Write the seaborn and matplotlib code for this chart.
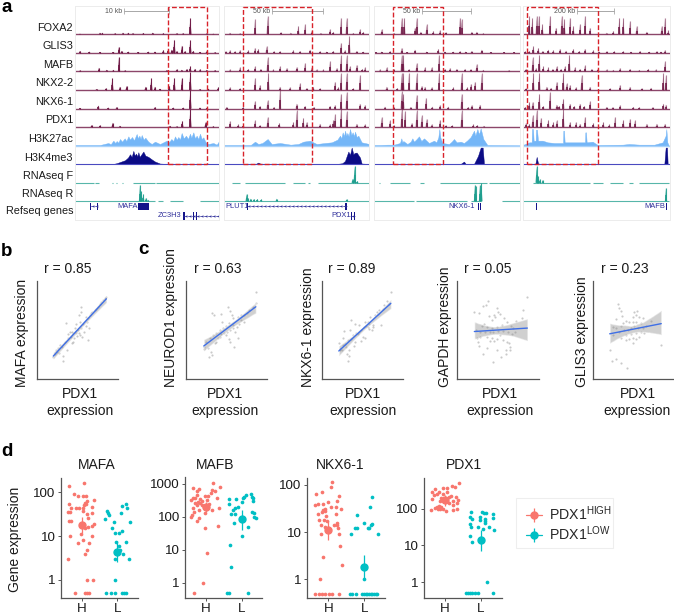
import numpy as np
import pandas as pd
import matplotlib
matplotlib.use("Agg")
import matplotlib.pyplot as plt
from matplotlib.patches import Rectangle
import seaborn as sns

W, H = 674, 615

foxa2_1 = [(347,48),(76,5),(83,5),(145,5),(161,5),(174,3),(206,4),(234,5),(266,3),(306,3),(325,3),(396,3),(416,2),(16,2),(121,3)]
glis3_1 = [(347,38),(299,40),(322,22),(133,18),(281,12),(291,10),(266,8),(16,6),(44,4),(76,3),(116,3),(141,6),(161,4),(191,3),(221,4),(241,4),(306,5),(331,5),(356,6),(396,5),(376,3),(421,2)]
mafb_1 = [(133,43),(347,15),(73,11),(16,3),(96,5),(116,5),(151,3),(276,4),(306,6),(321,5),(336,7),(361,8),(376,6),(396,5),(421,4)]
nkx22_1 = [(347,55),(113,35),(230,35),(299,35),(322,35),(284,12),(136,10),(156,12),(213,10),(241,10),(94,5),(66,3),(256,4),(376,3),(401,4),(431,8)]
nkx61_1 = [(347,56),(71,9),(16,2),(101,3),(126,4),(241,4),(296,3),(326,3),(376,3),(396,2)]
pdx1_1 = [(347,53),(114,13),(323,18),(393,15),(51,6),(76,5),(136,4),(286,4),(306,2),(416,2)]

foxa2_2 = [(93,45),(131,55),(223,25),(243,30),(263,10),(318,15),(328,8),(18,5),(48,3),(351,50),(368,50),(408,15),(388,4),(418,8),(170,6),(200,5),(290,4)]
glis3_2 = [(128,20),(93,15),(18,8),(48,8),(73,8),(103,12),(168,5),(208,8),(258,10),(288,5),(328,6),(351,30),(376,50),(363,8),(398,6),(418,4),(5,5),(33,5),(150,5),(228,6),(308,4)]
mafb_2 = [(131,42),(93,15),(48,12),(168,15),(188,10),(218,13),(243,25),(263,12),(318,30),(338,10),(351,48),(368,48),(398,20),(423,12),(378,15),(18,6),(73,8),(110,8),(148,6),(278,6),(298,6),(415,8)]
nkx22_2 = [(93,35),(133,52),(168,10),(198,8),(228,20),(268,10),(333,25),(18,8),(48,5),(108,15),(351,50),(368,52),(408,45),(388,5),(343,8),(248,6),(288,5)]
nkx61_2 = [(168,55),(93,22),(131,25),(218,15),(243,8),(333,10),(318,8),(8,5),(58,5),(108,8),(351,45),(368,50),(408,15),(423,10),(150,5),(270,5)]
pdx1_2 = [(218,50),(238,28),(131,30),(93,20),(166,12),(208,15),(248,15),(333,38),(328,20),(18,18),(43,8),(58,6),(108,6),(288,10),(318,8),(351,55),(368,48),(398,10),(423,8)]

foxa2_3 = [(83,50),(91,50),(128,50),(158,30),(258,50),(263,45),(23,15),(123,20),(178,10),(198,12),(293,8),(308,8),(328,3),(60,4),(140,8),(215,6)]
glis3_3 = [(83,15),(123,10),(193,12),(323,10),(293,6),(238,4),(23,4),(48,5),(158,4),(258,5),(5,3),(100,3),(213,4),(275,4),(350,3),(390,3),(420,3)]
mafb_3 = [(83,50),(88,50),(195,50),(128,25),(153,12),(173,12),(38,12),(18,6),(308,22),(273,8),(228,10),(248,8),(328,5),(60,7),(105,7),(213,8),(290,7),(405,4)]
nkx22_3 = [(83,50),(88,50),(105,50),(128,50),(195,50),(263,50),(323,50),(303,25),(291,18),(143,12),(153,10),(238,8),(38,10),(70,6),(173,8),(280,8)]
nkx61_3 = [(83,52),(88,45),(128,42),(156,32),(263,45),(293,10),(318,12),(198,10),(223,6),(33,6),(60,4),(110,5),(175,6),(283,5)]
pdx1_3 = [(83,55),(93,48),(128,50),(113,12),(143,35),(158,25),(198,22),(263,50),(23,30),(48,20),(173,8),(298,8),(60,6),(215,5),(235,5),(310,6),(330,4)]

foxa2_4 = [(20,55),(29,50),(42,55),(49,55),(59,30),(82,55),(100,20),(117,55),(125,45),(142,50),(152,25),(187,55),(172,30),(202,20),(290,50),(302,50),(322,40),(342,25),(427,50),(417,25),(437,12),(252,5),(272,10),(372,8)]
glis3_4 = [(32,20),(47,15),(77,10),(112,12),(152,12),(187,12),(212,8),(252,5),(302,5),(352,6),(402,5),(427,8),(8,5),(20,6),(60,6),(92,8),(130,7),(170,6),(230,4),(275,5),(325,4),(380,4),(415,4)]
mafb_4 = [(30,42),(50,50),(62,15),(77,12),(102,15),(140,50),(127,15),(157,12),(187,18),(207,8),(252,6),(292,10),(322,8),(377,8),(427,30),(10,8),(40,10),(90,8),(115,8),(172,8),(225,7),(272,5),(350,5),(400,6)]
nkx22_4 = [(32,50),(50,52),(72,10),(102,25),(122,50),(132,20),(177,45),(142,15),(202,10),(292,15),(322,10),(422,50),(430,45),(262,5),(357,5),(10,5),(85,7),(160,8),(385,7)]
nkx61_4 = [(20,20),(30,20),(50,45),(82,50),(102,12),(122,30),(142,15),(172,15),(202,22),(252,5),(292,10),(332,5),(422,15),(430,12),(8,5),(62,8),(110,8),(155,8),(185,8),(270,4),(350,4),(390,4)]
pdx1_4 = [(30,35),(42,50),(55,28),(77,22),(102,20),(122,55),(92,15),(142,15),(187,30),(212,12),(242,15),(277,30),(302,22),(322,25),(337,20),(372,10),(402,10),(427,10),(10,12),(20,10),(160,15),(172,10),(260,8)]

h3k27_1 = [(0,2),(76,2),(101,8),(108,4),(116,15),(122,8),(126,14),(131,9),(136,20),(142,12),(150,22),(155,14),(161,28),(166,18),(172,26),(178,16),(186,35),(190,22),(194,30),(198,20),(201,32),(207,18),(212,24),(221,12),(231,5),(241,12),(256,5),(276,15),(283,10),(290,20),(296,14),(301,28),(306,18),(311,26),(316,18),(321,38),(327,22),(334,30),(340,20),(346,36),(350,24),(356,40),(361,22),(366,30),(371,20),(376,36),(381,20),(386,25),(393,10),(401,5),(416,8),(426,3),(434,15)]
h3k27_2 = [(0,2),(80,2),(93,12),(103,5),(115,8),(131,20),(143,5),(168,8),(200,3),(223,5),(238,12),(258,15),(278,5),(303,8),(323,10),(340,18),(348,30),(352,22),(356,40),(360,28),(363,45),(367,30),(370,38),(374,28),(378,50),(382,32),(386,40),(390,28),(393,42),(398,26),(403,30),(413,10),(436,5)]
h3k27_3 = [(0,2),(20,2),(40,3),(60,3),(78,8),(82,22),(85,10),(88,14),(100,5),(110,12),(115,22),(120,12),(128,20),(135,28),(142,14),(150,22),(165,8),(180,15),(187,10),(193,25),(196,50),(199,25),(205,8),(225,5),(233,12),(240,20),(248,10),(260,12),(270,8),(280,16),(290,26),(300,45),(304,30),(310,50),(315,34),(320,52),(325,32),(328,20),(340,2),(438,1)]
h3k27_4 = [(0,2),(20,10),(27,10),(28,50),(31,50),(33,15),(39,15),(40,48),(43,48),(46,15),(60,15),(75,10),(95,8),(121,8),(122,45),(124,45),(126,10),(150,10),(187,10),(188,40),(190,40),(192,10),(210,12),(225,2),(300,3),(320,5),(350,3),(395,3),(420,10),(429,30),(431,50),(434,10),(438,1)]
h3k4_1 = [(0,1),(116,1),(126,3),(151,12),(160,20),(166,30),(171,22),(176,40),(180,26),(184,32),(188,24),(191,36),(195,22),(199,28),(206,38),(212,26),(221,22),(232,14),(241,8),(256,2),(276,1),(434,1)]
h3k4_2 = [(0,1),(95,1),(103,5),(110,1),(340,1),(355,3),(363,10),(373,38),(378,28),(383,50),(388,30),(392,34),(398,35),(408,20),(413,2),(436,1)]
h3k4_3 = [(0,1),(260,1),(270,8),(275,1),(300,1),(312,25),(320,50),(326,50),(330,1),(438,1)]
h3k4_4 = [(0,1),(38,1),(42,22),(46,3),(50,1),(425,1),(429,50),(433,50),(435,1),(438,1)]

rna_f_peaks = [[], [(392,50),(386,12),(400,5)], [], [(42,50),(46,20),(52,10),(60,8)]]
rna_r_peaks = [[(196,50),(200,30),(206,22),(214,10),(220,5)], [(68,22),(72,10),(80,8),(90,7),(100,7),(112,6),(158,8),(368,6)], [(303,50),(305,45),(318,50),(322,55)], [(430,40)]]
rna_f_cover = [[(0,58),(61,73),(111,114),(124,128),(141,146),(176,241),(244,434)],
               [(23,48),(63,183),(208,243),(253,258),(283,436)],
               [(14,18),(48,108),(138,150),(198,340),(345,438)],
               [(30,202),(212,240),(262,300),(320,330),(350,438)]]
rna_r_cover = [[(0,240),(250,265),(285,325),(376,434)], [(0,436)], [(0,120),(125,280),(290,320),(385,438)], [(0,438)]]

track_names = ["FOXA2", "GLIS3", "MAFB", "NKX2-2", "NKX6-1", "PDX1", "H3K27ac", "H3K4me3", "RNAseq F", "RNAseq R", "Refseq genes"]
window_lengths = [434, 436, 438, 442]
highlight = [(281,396), (58,263), (58,208), (14,227)]
scale_bars = [(147,283,118,"10 kb"), (143,296,114,"50 kb"), (143,290,114,"50 kb"), (162,275,127,"200 kb")]
gene_names = [[("MAFA",158,0),("ZC3H3",286,1)], [("PLUT1",40,0),("PDX1",351,1)], [("NKX6-1",263,0)], [("MAFB",395,0)]]
gene_lines = [[(46,71,0),(326,434,1)], [(68,368,0),(378,393,1)], [], []]
gene_blocks = [[(46,49,0),(68,71,0),(190,222,0),(326,330,1),(356,359,1),(364,368,1)],
               [(68,72,0),(364,368,0),(380,384,1),(390,393,1)],
               [(305,307,0),(312,314,0),(319,321,0)],
               [(41,44,0),(430,433,0)]]

# ---- panels b, c: expression scatter (arbitrary scale, ticks unlabelled)
mafa_x = [135,133,87,127,148,155,160,165,175,185,195,205,210,130,118,140,150,158,100,105,95,110,118,125,135,130,138,155,105,90,70,65,60,55,80,78,50,75,85,95,102,112,122,128,142,152,168,180,190,200,58,68,115,108]
mafa_y = [218,201,169,193,188,183,193,198,208,218,233,243,248,171,165,165,161,155,143,143,135,138,138,148,153,133,128,118,108,88,103,93,83,75,71,55,68,98,113,123,128,123,131,138,143,171,201,211,225,238,88,78,153,111]
neurod1_x = [211,77,83,106,127,134,138,109,141,156,166,176,189,201,211,131,121,111,101,91,81,71,61,53,66,76,69,79,91,101,113,123,133,143,153,161,176,131,134,144,157,121,106,96,86,53,141,147,166,183]
neurod1_y = [262,198,193,195,218,205,193,171,183,188,178,193,208,218,228,168,161,153,148,138,133,123,113,98,93,83,68,73,113,128,138,143,148,153,158,165,171,121,111,96,123,133,135,123,108,91,163,143,193,198]
nkx61_x = [209,197,204,189,174,166,162,179,147,87,99,66,51,64,84,112,131,139,144,154,129,119,112,104,94,79,69,56,62,82,96,124,130,144,152,156,119,99,77,82,79,74,89,109,134,139,169,184,64,54]
nkx61_y = [261,235,227,222,209,202,192,164,187,177,165,144,109,125,147,162,172,172,167,162,157,149,142,139,132,117,105,92,87,89,99,127,125,152,149,157,115,112,77,69,55,97,122,137,159,157,197,212,102,87]
gapdh_x = [211,92,86,78,52,67,119,124,111,129,97,142,104,114,199,194,177,149,81,74,89,104,119,134,161,169,57,69,84,99,109,124,139,154,164,129,89,59,69,104,111,119,139,149,156,159,67,89,79,119,147,159,131,107,147,99,64,174]
gapdh_y = [247,234,224,219,201,199,214,203,193,195,190,183,178,186,209,183,176,171,165,161,158,153,158,163,161,153,148,143,141,141,143,145,145,141,135,133,128,123,128,123,115,121,118,111,108,98,101,95,75,88,88,88,66,53,75,115,113,143]
glis3_x = [76,78,85,68,88,133,125,130,120,140,152,100,110,120,130,145,60,70,85,95,105,115,125,135,150,160,175,155,145,100,115,130,120,100,110,130,120,60,50,207,70,58,85,104,90,78,140,85]
glis3_y = [226,215,205,180,190,205,201,193,188,188,183,175,171,171,173,168,158,155,161,148,148,153,161,155,153,161,175,138,143,133,135,138,123,118,121,121,108,133,88,103,61,55,48,35,168,143,128,123]
pdx1_panels = ["MAFA", "NEUROD1", "NKX6-1", "GAPDH", "GLIS3"]
r_values = ["r = 0.85", "r = 0.63", "r = 0.89", "r = 0.05", "r = 0.23"]

# ---- panel d: (jitter, expression) per patient group
mafa_high = [(-37,142),(7,164),(-24,90),(-12,85),(3,85),(13,82),(38,68),(-37,54),(17,63),(10,58),(7,51),(13,53),(-32,45),(-17,45),(-9,45),(5,45),(30,46),(-42,35),(-36,35),(3,38),(17,32),(30,34),(20,26),(-38,22),(-32,22),(36,19),(30,17),(20,16),(11,15),(-35,10),(-2,11),(32,10),(-12,7),(23,7),(3,8),(17,4.9),(9,3.9),(-42,3),(17,1),(33,1),(-19,.5),(10,.5),(15,.5),(21,.5)]
mafa_low = [(25,53),(14,48),(29,44),(-30,38),(-29,33),(-26,30),(12,33),(-36,24),(39,21),(-11,21),(-17,15),(-8,12),(5,12),(15,13),(-4,7.3),(25,7.2),(6,6),(8,4.9),(16,3.9),(-6,3),(34,3),(-8,1),(-33,.5),(-20,.5),(-6,.5),(13,.5),(21,.5),(26,.5)]
mafb_high = [(22,1050),(-39,708),(41,795),(-22,675),(-26,590),(17,630),(27,590),(14,500),(-28,465),(7,415),(-3,415),(-18,337),(-40,355),(-34,355),(32,355),(-44,315),(4,315),(-13,295),(-23,270),(-34,250),(-18,250),(-11,220),(-28,220),(10,235),(38,180),(-38,185),(-6,200),(-20,157),(18,157),(-36,136),(-41,110),(-3,125),(-44,100),(-21,88),(-28,75),(35,52),(-4,45),(2,8),(-10,1),(-35,.5)]
mafb_low = [(29,490),(12,455),(6,400),(3,355),(-38,337),(-17,337),(32,390),(35,355),(1,270),(35,295),(-37,240),(-12,195),(-19,185),(-27,157),(32,136),(38,126),(-33,120),(-21,117),(37,98),(42,93),(-23,62),(20,50),(0,25),(-36,14),(-31,3),(-45,.5),(-39,.5),(18,.5)]
nkx61_high = [(12,116),(9,90),(-38,65),(-20,72),(31,57),(27,45),(0,43),(-39,37),(-31,39),(-15,39),(9,34),(22,34),(37,31),(-9,31),(-15,30),(-20,27),(-10,28),(-31,24),(22,24),(-7,22),(-13,18),(-27,18),(-5,17),(25,16),(-21,14),(18,14),(27,14),(-10,13),(30,12),(-22,9),(31,9),(35,5),(-15,3),(42,2),(-24,1),(-41,.5),(-29,.5),(-20,.5),(-9,.5),(3,.5),(12,.5),(32,.5)]
nkx61_low = [(23,55),(17,34),(-23,23),(-1,16),(24,15),(21,14),(-28,12),(-21,12),(10,12),(15,12),(-40,9),(40,9),(0,1),(-42,.5),(-36,.5),(-24,.5),(-6,.5),(-1,.5),(4,.5),(9,.5),(14,.5),(19,.5),(24,.5),(29,.5),(34,.5),(39,.5)]
pdx1_high = [(43,510),(29,397),(21,415),(7,380),(-7,365),(-30,357),(-40,290),(-17,285),(7,279),(-33,237),(-23,250),(-5,257),(17,230),(13,212),(33,209),(40,172),(-13,200),(-38,180),(23,162),(35,140),(-15,162),(13,140),(25,126),(-23,113),(-17,120),(-12,109),(-29,107),(-20,100),(-15,100),(-41,94),(3,88),(25,90),(37,98),(-5,98)]
pdx1_low = [(-30,81),(5,80),(10,76),(15,76),(-1,59),(36,72),(37,55),(-33,60),(-25,54),(13,52),(-2,48),(13,47),(-33,38),(-29,31),(14,40),(26,32),(-7,31),(6,28),(40,26),(-32,18),(-27,12),(18,1),(-45,.5),(-38,.5),(-32,.5),(-25,.5),(-17,.5),(-7,.5),(38,.5)]

strip_genes = ["MAFA", "MAFB", "NKX6-1", "PDX1"]
summary_mid = [(18, 4.4), (189, 84), (11, 1.84), (172, 14)]
summary_lo = [(11.5, 2.5), (136, 40), (6.7, 1), (121, 7)]
summary_hi = [(28, 7.7), (268, 153), (17.5, 3.3), (235, 26)]
strip_ticks = [[1, 10, 100], [1, 10, 100, 1000], [1, 10, 100], [1, 10, 100]]

sns.set_style("white")
plt.rcParams["font.family"] = ["Liberation Sans", "DejaVu Sans"]
plt.rcParams["mathtext.fontset"] = "custom"
plt.rcParams["mathtext.rm"] = "Liberation Sans"

WINE = "#6f1845"
LIGHTBLUE = "#74b6f7"
NAVY = "#0b0b85"
TEAL = "#1f9e8e"
GENE = "#2f2f9a"
AXIS = "#555555"
SALMON = "#F8766D"
CYAN = "#00BFC4"
FS = 10

fig = plt.figure(figsize=(W / 100, H / 100), dpi=100)


def px_axes(left, top, right, bottom):
    return fig.add_axes([left / W, 1 - bottom / H, (right - left) / W, (bottom - top) / H])


def fig_text(x, y, s, **kw):
    fig.text(x / W, 1 - y / H, s, **kw)


# ---- a
tf_tracks = [[foxa2_1, foxa2_2, foxa2_3, foxa2_4], [glis3_1, glis3_2, glis3_3, glis3_4],
             [mafb_1, mafb_2, mafb_3, mafb_4], [nkx22_1, nkx22_2, nkx22_3, nkx22_4],
             [nkx61_1, nkx61_2, nkx61_3, nkx61_4], [pdx1_1, pdx1_2, pdx1_3, pdx1_4]]
h3k27 = [h3k27_1, h3k27_2, h3k27_3, h3k27_4]
h3k4 = [h3k4_1, h3k4_2, h3k4_3, h3k4_4]
window_left = [224 / 3, 224, 1122 / 3, 1568 / 3]
TRACK_H = 55.67


def draw_peaks(ax, peaks, base, color, fade):
    # each peak is a narrow spike on a wider foot, as the browser's blurred bins look
    for pos, sig in peaks:
        top = base + sig / TRACK_H
        ax.fill([pos - 3.5, pos, pos + 3.5], [base, top, base], color=color, alpha=fade, lw=0)
        ax.vlines(pos, base, top, color=color, lw=0.8, alpha=fade)
        ax.vlines(pos, base, base + 0.45 * sig / TRACK_H, color=color, lw=1.1)


def draw_profile(ax, profile, base, color):
    xs = [p[0] for p in profile]
    ys = [base + p[1] / TRACK_H for p in profile]
    ax.fill_between(xs, base, ys, color=color, lw=0.3)


for w, length in enumerate(window_lengths):
    left = window_left[w]
    ax = px_axes(left, 6, left + length / 3, 220)
    ax.set_xlim(0, length)
    ax.set_ylim(-1.006, 10.527)
    ax.set_xticks([])
    ax.set_yticks([])
    for sp in ax.spines.values():
        sp.set_color("#ececec")
        sp.set_linewidth(0.7)

    for i, track in enumerate(tf_tracks):
        base = 9 - i
        draw_peaks(ax, track[w], base, WINE, 0.95 if w == 0 else 0.5)
        ax.hlines(base, 0, length, color=WINE, lw=1.0, alpha=0.8)
    draw_profile(ax, h3k27[w], 3, LIGHTBLUE)
    ax.hlines(3, 0, length, color="#a9d2fa", lw=1.0)
    draw_profile(ax, h3k4[w], 2, NAVY)
    ax.hlines(2, 0, length, color="#4a4ac0", lw=0.8)
    draw_peaks(ax, rna_f_peaks[w], 1, TEAL, 0.9)
    draw_peaks(ax, rna_r_peaks[w], 0, TEAL, 0.9)
    for a, b in rna_f_cover[w]:
        ax.hlines(1, a, b, color=TEAL, lw=0.8, alpha=0.75)
    for a, b in rna_r_cover[w]:
        ax.hlines(0, a, b, color=TEAL, lw=0.8, alpha=0.75)

    row_y = [-0.27, -0.79]
    for a, b, row in gene_lines[w]:
        ax.hlines(row_y[row], a, b, color=GENE, lw=0.4)
        ax.plot(np.arange(a + 8, b, 12), [row_y[row]] * len(np.arange(a + 8, b, 12)), ls="", marker="3",
                ms=2.2, mew=0.4, color=GENE)
    for a, b, row in gene_blocks[w]:
        ax.fill_between([a, b], row_y[row] - 0.2, row_y[row] + 0.2, color="#14148a", lw=0)
    for name, pos, row in gene_names[w]:
        ax.text(pos, row_y[row], name, color=GENE, fontsize=5.4, ha="center", va="center")

    a, b, lab_x, lab = scale_bars[w]
    ax.plot([a, b], [10.257, 10.257], color="#a8a8a8", lw=0.7, marker="|", ms=4, mew=0.6)
    ax.text(lab_x, 10.25, lab, color="#555555", fontsize=5, ha="center", va="center")

    a, b = highlight[w]
    ax.add_patch(Rectangle((a, 2.02), b - a, 8.47, fill=False, ec="#d8222a", lw=1.0, ls=(0, (3.5, 1.6)), zorder=5))

label_y = [83, 139, 195, 250, 306, 361, 417, 473, 527, 583, 634]
for name, zy in zip(track_names, label_y):
    fig_text(73, zy / 3, name, fontsize=7.8, ha="right", va="center", color="#1a1a1a")

# ---- b, c
scatter_x = [mafa_x, neurod1_x, nkx61_x, gapdh_x, glis3_x]
scatter_y = [mafa_y, neurod1_y, nkx61_y, gapdh_y, glis3_y]
scatter_left = [36.7, 186.3, 322, 457, 593.3]
scatter_right = [118, 267, 402.7, 538.7, 673.7]
r_cx = [68, 218, 352, 488, 625]
xlabel_cx = [80, 225, 362.5, 500, 637.5]
ylabel_x = [22, 171, 308, 445, 582]

for k, gene in enumerate(pdx1_panels):
    ax = px_axes(scatter_left[k], 281, scatter_right[k], 379.3)
    df = pd.DataFrame({"PDX1": scatter_x[k], gene: scatter_y[k]})
    sns.regplot(data=df, x="PDX1", y=gene, ax=ax, n_boot=400, seed=3, truncate=True,
                scatter_kws=dict(s=2.4, color="#7a7a7a", alpha=0.4, linewidths=0),
                line_kws=dict(color="#3f6fe6", lw=1.0))
    ax.collections[-1].set_facecolor("#8f8f8f")
    ax.collections[-1].set_alpha(0.42)
    ax.set_xlim(0, 245)
    ax.set_ylim(0, 295)
    ax.set_xticks([50, 123, 195])
    ax.set_yticks([60, 148, 236])
    ax.tick_params(length=1, width=0.5, color="#888888", labelbottom=False, labelleft=False)
    sns.despine(ax=ax)
    for side in ("left", "bottom"):
        ax.spines[side].set_color(AXIS)
        ax.spines[side].set_linewidth(0.9)
    ax.set_xlabel("PDX1\nexpression", fontsize=FS, linespacing=1.25, color="#1a1a1a", va="top")
    ax.xaxis.set_label_coords((xlabel_cx[k] - scatter_left[k]) / (scatter_right[k] - scatter_left[k]), -(387 - 379.3) / 98.3)
    ax.set_ylabel(gene + " expression", fontsize=FS, color="#1a1a1a", ha="left", va="center")
    ax.yaxis.set_label_coords((ylabel_x[k] - scatter_left[k]) / (scatter_right[k] - scatter_left[k]), -(387 - 379.3) / 98.3)
    fig_text(r_cx[k], 269, r_values[k], fontsize=FS, ha="center", va="center", color="#1a1a1a")

# ---- d
strip_data = [(mafa_high, mafa_low), (mafb_high, mafb_low), (nkx61_high, nkx61_low), (pdx1_high, pdx1_low)]
strip_left = [60.7, 185, 306.7, 423.7]
strip_right = [138.3, 262.3, 385, 501.7]
strip_h_px = [81.7, 206, 328.3, 445]
strip_gap = [107, 107, 108, 107]
strip_ylim = [(0.38, 220), (0.344, 1520), (0.405, 143.5), (0.366, 714)]
title_cx = [97, 215, 340, 464]

for k, gene in enumerate(strip_genes):
    ax = px_axes(strip_left[k], 477.5, strip_right[k], 598)
    gap = strip_gap[k]
    for g, (pts, col) in enumerate(zip(strip_data[k], (SALMON, CYAN))):
        df = pd.DataFrame(pts, columns=["jitter", "value"])
        df["x"] = df["jitter"] + g * gap
        sns.scatterplot(data=df, x="x", y="value", ax=ax, color=col, s=7, linewidth=0, legend=False, zorder=3)
        mid = summary_mid[k][g]
        ax.errorbar([g * gap], [mid], yerr=[[mid - summary_lo[k][g]], [summary_hi[k][g] - mid]], fmt="o", color=col,
                    ms=5, elinewidth=0.9, capsize=0, zorder=4)
    ax.set_yscale("log")
    ax.set_ylim(*strip_ylim[k])
    ax.set_xlim((strip_left[k] - strip_h_px[k]) * 3, (strip_right[k] - strip_h_px[k]) * 3)
    ax.set_xticks([0, gap])
    ax.set_xticklabels(["H", "L"])
    ax.set_yticks(strip_ticks[k])
    ax.set_yticklabels([str(t) for t in strip_ticks[k]])
    ax.minorticks_off()
    ax.tick_params(length=2.2, width=0.7, color=AXIS, labelsize=9.6, pad=1.5, labelcolor="#1a1a1a",
                   bottom=True, left=True)
    ax.tick_params(axis="x", pad=1.5)
    ax.set_xlabel("")
    ax.set_ylabel("")
    sns.despine(ax=ax)
    for side in ("left", "bottom"):
        ax.spines[side].set_color(AXIS)
        ax.spines[side].set_linewidth(0.9)
    ax.set_title(gene, fontsize=FS, color="#1a1a1a", pad=6,
                 x=(title_cx[k] - strip_left[k]) / (strip_right[k] - strip_left[k]))
    if k == 0:
        ax.set_ylabel("Gene expression", fontsize=FS, color="#1a1a1a")
        ax.yaxis.set_label_coords((22 - 60.7) / 77.6, 0.49)

handles = []
for col, lab in ((SALMON, r"PDX1$^{\mathrm{HIGH}}$"), (CYAN, r"PDX1$^{\mathrm{LOW}}$")):
    handles.append(ax.errorbar([np.nan], [np.nan], yerr=[1], fmt="-o", color=col, ms=5, lw=0.9, elinewidth=0.9, label=lab))
fig.legend(handles=handles, loc="upper left", bbox_to_anchor=(526 / W, 1 - 504 / H), borderaxespad=0, borderpad=0,
           fontsize=10.2, frameon=False, numpoints=1, handlelength=1.15, labelspacing=0.14, handletextpad=0.5)
fig.add_artist(Rectangle((516.3 / W, 1 - 548 / H), 96.7 / W, 49.7 / H, transform=fig.transFigure, fill=False,
                         ec="#eeeeee", lw=0.8))

# panel letters
for s, x, y in (("a", 1, 7), ("b", 1, 251), ("c", 138, 250), ("d", 1, 452)):
    fig_text(x, y, s, fontsize=13.5, fontweight="bold", ha="left", va="center", color="black")

fig.savefig("out.png", dpi=100, facecolor="white")
